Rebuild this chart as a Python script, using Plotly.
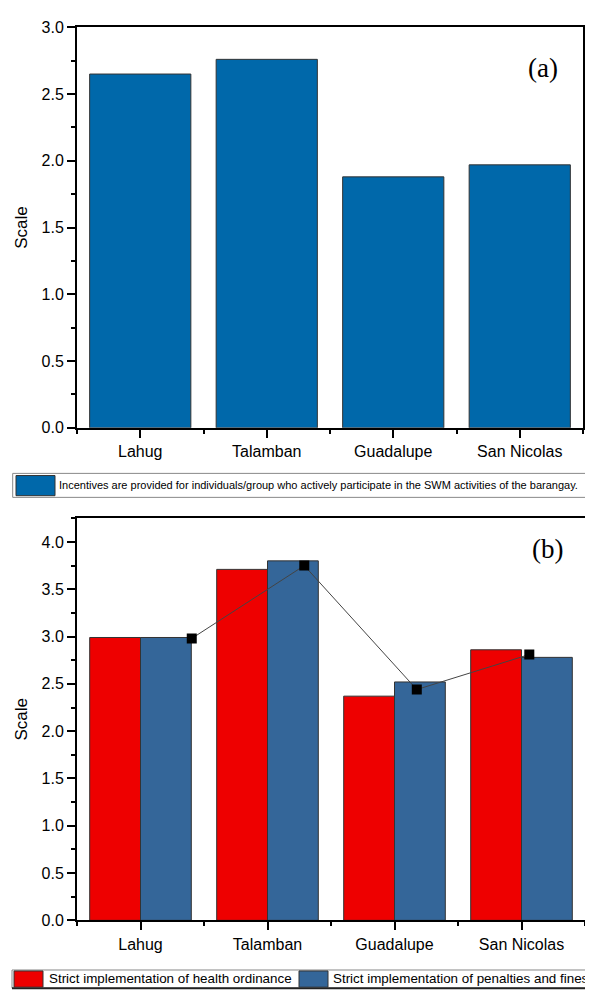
import plotly.graph_objects as go

# ---------------- data ----------------
categories = ["Lahug", "Talamban", "Guadalupe", "San Nicolas"]
incentives = [2.65, 2.76, 1.88, 1.97]
health_ordinance = [2.99, 3.71, 2.37, 2.86]
penalties_fines = [2.99, 3.80, 2.52, 2.78]
mean_points = [2.98, 3.75, 2.44, 2.81]
yticks_a = [0.0, 0.5, 1.0, 1.5, 2.0, 2.5, 3.0]
yticks_b = [0.0, 0.5, 1.0, 1.5, 2.0, 2.5, 3.0, 3.5, 4.0]
legend_a = "Incentives are provided for individuals/group who actively participate in the SWM activities of the barangay."
legend_b1 = "Strict implementation of health ordinance"
legend_b2 = "Strict implementation of penalties and fines"

OFF = 8          # default page body margin
W, H = 593, 999
BLUE_A = "#0068AA"
RED = "#EE0000"
BLUE_B = "#346699"
FONT = "Arial, Liberation Sans, sans-serif"


def fx(px):
    return (px - OFF) / W


def fy(py):
    return 1 - (py - OFF) / H


xpos = list(range(len(categories)))

fig = go.Figure()
fig.add_trace(go.Bar(x=xpos, y=incentives, name=legend_a,
                     marker=dict(color=BLUE_A, line=dict(color="#333333", width=1)),
                     width=0.8, xaxis="x", yaxis="y", showlegend=False))
fig.add_trace(go.Bar(x=xpos, y=health_ordinance, name=legend_b1,
                     marker=dict(color=RED, line=dict(color="#333333", width=1)),
                     xaxis="x2", yaxis="y2", showlegend=False, offsetgroup="h"))
fig.add_trace(go.Bar(x=xpos, y=penalties_fines, name=legend_b2,
                     marker=dict(color=BLUE_B, line=dict(color="#333333", width=1)),
                     xaxis="x2", yaxis="y2", showlegend=False, offsetgroup="p"))
fig.add_trace(go.Scatter(x=xpos, y=mean_points, mode="lines+markers",
                         line=dict(color="#444444", width=1),
                         marker=dict(symbol="square", size=10, color="black"),
                         xaxis="x3", yaxis="y2", showlegend=False, name="Mean"))

axis_common = dict(showline=True, linecolor="black", linewidth=2, mirror=True, showgrid=False, zeroline=False,
                   ticks="outside", ticklen=8, tickwidth=1.5, tickcolor="black",
                   tickfont=dict(family=FONT, size=16, color="black"))
xa = dict(axis_common, range=[-0.5, 3.5], tickvals=xpos, ticktext=categories,
          minor=dict(ticks="outside", ticklen=4, tickwidth=1.5, tickcolor="black", tick0=0.5, dtick=1))
yminor = dict(ticks="outside", ticklen=4, tickwidth=1.5, tickcolor="black", dtick=0.25)

fig.update_layout(
    width=W, height=H, margin=dict(l=0, r=0, t=0, b=0), autosize=False,
    plot_bgcolor="white", paper_bgcolor="white",
    barmode="group", bargap=0.2, bargroupgap=0, showlegend=False,
    xaxis=dict(xa, domain=[fx(77), fx(583)], anchor="y"),
    yaxis=dict(axis_common, domain=[fy(427), fy(19.5)], range=[0, 3], tickvals=yticks_a,
               tickformat=".1f", anchor="x", minor=yminor,
               title=dict(text="Scale", font=dict(family=FONT, size=17, color="black"), standoff=10)),
    xaxis2=dict(xa, domain=[fx(77), fx(585)], anchor="y2"),
    yaxis2=dict(axis_common, domain=[fy(928), fy(519)], range=[0, 4.25], tickvals=yticks_b,
                tickformat=".1f", anchor="x2", minor=yminor,
                title=dict(text="Scale", font=dict(family=FONT, size=17, color="black"), standoff=10)),
    xaxis3=dict(domain=[fx(77), fx(585)], anchor="y2", overlaying="x2", range=[-1.02, 3.495],
                visible=False, showgrid=False, zeroline=False),
)

shapes = []
annotations = []

serif = dict(family="Liberation Serif, Times New Roman, serif", size=27, color="black")
annotations.append(dict(xref="paper", yref="paper", x=fx(543), y=fy(61), text="(a)", showarrow=False,
                        font=serif, xanchor="center", yanchor="middle"))
annotations.append(dict(xref="paper", yref="paper", x=fx(547), y=fy(550), text="(b)", showarrow=False,
                        font=serif, xanchor="center", yanchor="middle"))

# legend (a)
shapes.append(dict(type="rect", xref="paper", yref="paper", x0=fx(12.7), x1=fx(600), y0=fy(497.7), y1=fy(473.3),
                   line=dict(color="#888888", width=1), fillcolor="white"))
shapes.append(dict(type="rect", xref="paper", yref="paper", x0=fx(16), x1=fx(55), y0=fy(496), y1=fy(475.5),
                   line=dict(color="#333333", width=1), fillcolor=BLUE_A))
annotations.append(dict(xref="paper", yref="paper", x=fx(57), y=fy(485.5), text=legend_a, showarrow=False,
                        xanchor="left", yanchor="middle", font=dict(family=FONT, size=11, color="black")))

# legend (b)
shapes.append(dict(type="rect", xref="paper", yref="paper", x0=fx(12), x1=fx(600), y0=fy(997), y1=fy(978.5),
                   line=dict(color="#888888", width=1), fillcolor="white"))
shapes.append(dict(type="line", xref="paper", yref="paper", x0=fx(12), x1=fx(600), y0=fy(997), y1=fy(997),
                   line=dict(color="#222222", width=2)))
shapes.append(dict(type="rect", xref="paper", yref="paper", x0=fx(14), x1=fx(43), y0=fy(996), y1=fy(979.5),
                   line=dict(color="#333333", width=1), fillcolor=RED))
annotations.append(dict(xref="paper", yref="paper", x=fx(47), y=fy(987.5), text=legend_b1, showarrow=False,
                        xanchor="left", yanchor="middle", font=dict(family=FONT, size=13.4, color="black")))
shapes.append(dict(type="rect", xref="paper", yref="paper", x0=fx(299), x1=fx(328), y0=fy(996), y1=fy(979.5),
                   line=dict(color="#333333", width=1), fillcolor=BLUE_B))
annotations.append(dict(xref="paper", yref="paper", x=fx(331), y=fy(987.5), text=legend_b2, showarrow=False,
                        xanchor="left", yanchor="middle", font=dict(family=FONT, size=13.4, color="black")))

fig.update_layout(shapes=shapes, annotations=annotations)
fig.write_html("out.html", config={"displayModeBar": False})
